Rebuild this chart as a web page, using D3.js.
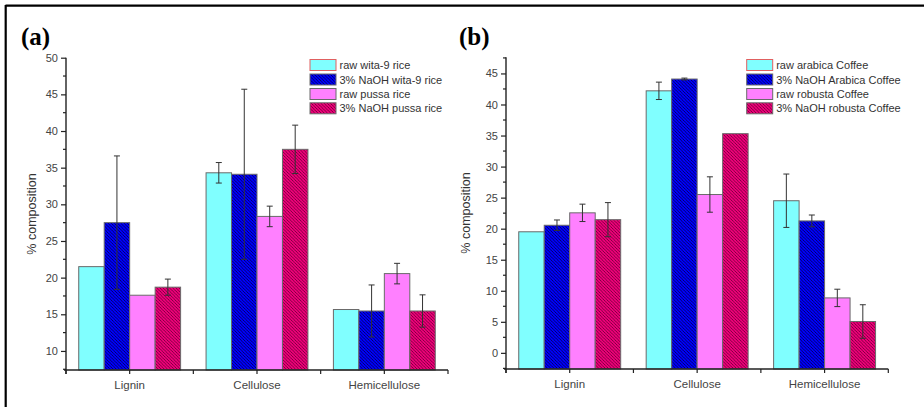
<!DOCTYPE html>
<html><head><meta charset="utf-8">
<script src="https://cdn.jsdelivr.net/npm/d3@7/dist/d3.min.js"></script>
<style>body{margin:0;background:#fff}svg{display:block}text{font-family:Arial,"Liberation Sans",sans-serif}</style>
</head><body><svg id="c" width="924" height="407"></svg>
<script>
const categories = ["Lignin","Cellulose","Hemicellulose"];

// Panel (a) rice
const seriesA = ["raw wita-9 rice","3% NaOH wita-9 rice","raw pussa rice","3% NaOH pussa rice"];
const valuesA = [[21.5,34.3,15.65],[27.5,34.1,15.45],[17.6,28.35,20.55],[18.7,37.5,15.45]];
const errorsA = [[0,1.4,0],[9.1,11.6,3.55],[0,1.4,1.4],[1.1,3.3,2.2]];
const ticksA = [10,15,20,25,30,35,40,45,50];

// Panel (b) coffee
const seriesB = ["raw arabica Coffee","3% NaOH Arabica Coffee","raw robusta Coffee","3% NaOH robusta Coffee"];
const valuesB = [[19.5,42.2,24.5],[20.55,44.1,21.25],[22.55,25.5,8.85],[21.45,35.3,5.05]];
const errorsB = [[0,1.4,4.3],[0.85,0.15,0.95],[1.4,2.85,1.4],[2.75,0,2.7]];
const ticksB = [0,5,10,15,20,25,30,35,40,45];

const fills = ["#80FFFF","#0000FF","#FF80FF","#F0007A"];
const hatched = [false,true,false,true];
const hatchOpacity = [0,0.75,0,0.6];

const svg = d3.select("#c");
const defs = svg.append("defs");
fills.forEach((f,i)=>{
  if(!hatched[i]) return;
  const p = defs.append("pattern").attr("id","h"+i).attr("patternUnits","userSpaceOnUse")
    .attr("width",3.2).attr("height",3.2);
  p.append("rect").attr("width",3.2).attr("height",3.2).attr("fill",f);
  p.append("path").attr("d","M-1,-1 L4.2,4.2 M-1,2.2 L1,4.2 M2.2,-1 L4.2,1")
    .attr("stroke","#000").attr("stroke-width",0.8).attr("stroke-opacity",hatchOpacity[i]);
});
const fillOf = i => hatched[i] ? "url(#h"+i+")" : fills[i];

// frame
svg.append("line").attr("x1",5.5).attr("x2",924).attr("y1",5.7).attr("y2",5.7).attr("stroke","#000").attr("stroke-width",2.2);
svg.append("line").attr("x1",5.7).attr("x2",5.7).attr("y1",5).attr("y2",407).attr("stroke","#000").attr("stroke-width",2.2);

function panel(o){
  const g = svg.append("g");
  const x = d3.scaleBand().domain(categories).range([o.x0,o.x1]).paddingInner(0).paddingOuter(0);
  const bw = x.bandwidth();
  const xs = d3.scaleBand().domain(d3.range(4)).range([bw*0.1,bw*0.9]);
  const y = d3.scaleLinear().domain(o.ydom).range([o.yb,o.yt]);

  // bars
  o.values.forEach((vals,si)=>{
    g.selectAll(null).data(vals).enter().append("rect")
      .attr("x",(d,ci)=>x(categories[ci])+xs(si))
      .attr("width",xs.bandwidth())
      .attr("y",d=>y(d)).attr("height",d=>o.yb-y(d))
      .attr("fill",fillOf(si)).attr("stroke","#6a6a6a").attr("stroke-width",1);
  });
  // error bars
  o.values.forEach((vals,si)=>{
    vals.forEach((v,ci)=>{
      const e = o.errors[si][ci]; if(!e) return;
      const cx = x(categories[ci])+xs(si)+xs.bandwidth()/2;
      const eg = g.append("g").attr("stroke","#333").attr("stroke-width",1);
      eg.append("line").attr("x1",cx).attr("x2",cx).attr("y1",y(v+e)).attr("y2",y(v-e));
      eg.append("line").attr("x1",cx-3).attr("x2",cx+3).attr("y1",y(v+e)).attr("y2",y(v+e));
      eg.append("line").attr("x1",cx-3).attr("x2",cx+3).attr("y1",y(v-e)).attr("y2",y(v-e));
    });
  });

  // y axis
  const ya = d3.axisLeft(y).tickValues(o.ticks).tickSize(5).tickPadding(3);
  const yg = g.append("g").attr("transform",`translate(${o.x0},0)`).call(ya);
  yg.select(".domain").remove();
  yg.selectAll("line").attr("stroke","#222").attr("stroke-width",1.2);
  yg.selectAll("text").attr("fill","#444").style("font-size","11px");
  const minors = o.ticks.map(t=>t-2.5).concat([o.ticks[o.ticks.length-1]+2.5]).filter(t=>t>=o.ydom[0]&&t<=o.ydom[1]);
  g.selectAll(null).data(minors).enter().append("line")
    .attr("x1",o.x0-3).attr("x2",o.x0).attr("y1",d=>y(d)).attr("y2",d=>y(d))
    .attr("stroke","#222").attr("stroke-width",1.2);
  g.append("line").attr("x1",o.x0).attr("x2",o.x0).attr("y1",o.yt).attr("y2",o.yb+4)
    .attr("stroke","#222").attr("stroke-width",1.4);

  // x axis
  g.append("line").attr("x1",o.x0-2).attr("x2",o.x1).attr("y1",o.yb).attr("y2",o.yb)
    .attr("stroke","#222").attr("stroke-width",1.4);
  const xt = categories.map(c=>x(c)).concat([o.x1]).concat(categories.map(c=>x(c)+bw/2));
  g.selectAll(null).data(xt).enter().append("line")
    .attr("x1",d=>d).attr("x2",d=>d).attr("y1",o.yb).attr("y2",o.yb+4)
    .attr("stroke","#222").attr("stroke-width",1.2);
  g.selectAll(null).data(categories).enter().append("text")
    .attr("x",d=>x(d)+bw/2).attr("y",o.yb+19).attr("text-anchor","middle")
    .attr("fill","#444").style("font-size","11.5px").text(d=>d);

  // y label
  g.append("text").attr("transform",`translate(${o.ylx},${o.yly}) rotate(-90)`)
    .attr("text-anchor","middle").attr("fill","#333").style("font-size","12.5px").text("% composition");

  // panel label
  g.append("text").attr("x",o.lx).attr("y",45).style("font-family","'Liberation Serif','Times New Roman',serif")
    .style("font-weight","bold").style("font-size","25px").attr("fill","#000").text(o.label);

  // legend
  const rows = [65,79.5,94,108.3];
  o.series.forEach((s,i)=>{
    g.append("rect").attr("x",o.legx).attr("y",rows[i]-5.5).attr("width",26).attr("height",11)
      .attr("fill",fillOf(i)).attr("stroke", i===0 ? "#e06060" : "#6a6a6a").attr("stroke-width",1);
    g.append("text").attr("x",o.legx+29.5).attr("y",rows[i]+4).attr("fill","#333")
      .style("font-size","11px").text(s);
  });
}

panel({x0:66,x1:448,yb:370,yt:57.7,ydom:[7.4,50],ticks:ticksA,values:valuesA,errors:errorsA,
  series:seriesA,ylx:36,yly:214,lx:21,label:"(a)",legx:310});
panel({x0:506,x1:888.3,yb:369,yt:57.3,ydom:[-2.6,47.6],ticks:ticksB,values:valuesB,errors:errorsB,
  series:seriesB,ylx:470,yly:213,lx:459,label:"(b)",legx:746.7});
</script></body></html>
